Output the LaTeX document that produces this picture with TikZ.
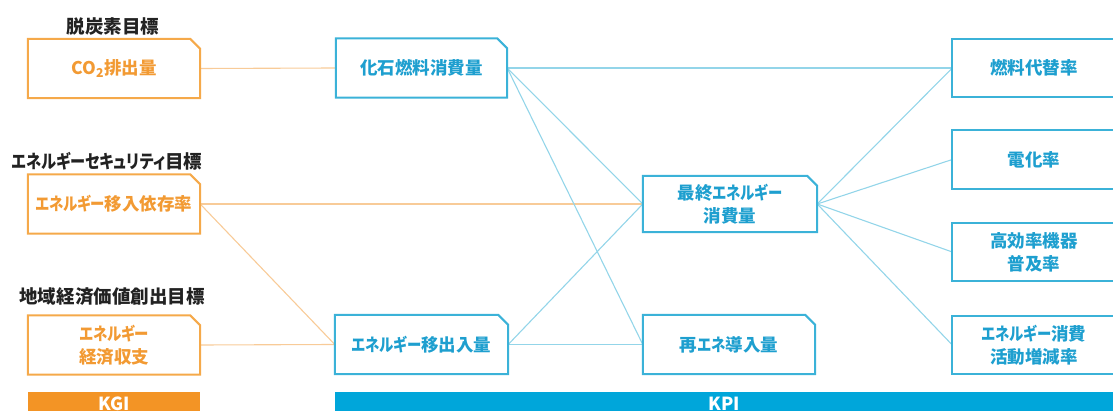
\documentclass[tikz,border=0pt]{standalone}
\usepackage{fontspec}
\setmainfont{Noto Sans CJK JP}[RawFeature=+palt]
\newcommand{\kn}[1]{\scalebox{0.82}[1]{#1}}
\definecolor{otext}{HTML}{F29A33}
\definecolor{oline}{HTML}{F5A94A}
\definecolor{olink}{HTML}{F8CB98}
\definecolor{obar}{HTML}{F39425}
\definecolor{btext}{HTML}{1E9FCF}
\definecolor{bline}{HTML}{3BB2D8}
\definecolor{blink}{HTML}{93D5E9}
\definecolor{bbar}{HTML}{00A6DA}
\definecolor{ttl}{HTML}{222222}
\tikzset{
  box/.style={minimum height=59pt, inner sep=0pt, align=center,
    font=\fontsize{17.5}{23}\selectfont\bfseries},
  obox/.style={box, text=otext, minimum width=172pt},
  bbox/.style={box, text=btext},
  title/.style={text=ttl, font=\fontsize{18.5}{22}\selectfont\bfseries, inner sep=0pt},
  olk/.style={draw=olink, line width=1.1pt},
  blk/.style={draw=blink, line width=1.1pt},
  bar/.style={inner sep=0pt, anchor=base, text=white,
    font=\fontsize{18}{18}\selectfont\bfseries},
}
\newcommand{\chamf}[2]{%
  \draw[#2, line width=2pt, line join=miter]
    (#1.south west) -- (#1.north west) -- ([xshift=-10pt]#1.north east)
    -- ([yshift=-10pt]#1.north east) -- (#1.south east) -- cycle;}
\begin{document}
\begin{tikzpicture}[x=1pt,y=-1pt]
\useasboundingbox (0,0) rectangle (1113,411);
\clip (0,0) rectangle (1113,411);
% titles
\node[title] (t1) at (113,27) {脱炭素目標};
\node[title] (t2) at (107,161) {\kn{エネルギーセキュリティ}目標};
\node[title] (t3) at (112,297) {地域経済価値創出目標};
% KGI boxes
\node[obox] (g1) at (114,68.5) {CO\textsubscript{2}排出量};
\node[obox] (g2) at (114,204) {\kn{エネルギー}移入依存率};
\node[obox] (g3) at (114,345) {\kn{エネルギー}\\経済収支};
% KPI boxes
\node[bbox, minimum width=171pt] (fossil) at (421.5,68) {化石燃料消費量};
\node[bbox, minimum width=173pt] (trade) at (421.5,344.5) {\kn{エネルギー}移出入量};
\node[bbox, minimum width=174pt, minimum height=56pt] (final) at (730,204) {最終\kn{エネルギー}\\消費量};
\node[bbox, minimum width=172pt] (renew) at (729,344.5) {再\kn{エネ}導入量};
\node[bbox, minimum width=175pt, minimum height=58pt] (r1) at (1040,68) {};
\node[bbox, minimum width=175pt, minimum height=58pt] (r2) at (1040,159.5) {};
\node[bbox, minimum width=175pt, minimum height=58pt] (r3) at (1040,252) {};
\node[bbox, minimum width=175pt, minimum height=58pt] (r4) at (1040,345) {};
\node[box, text=btext] (l1) at (1034,68) {燃料代替率};
\node[box, text=btext] (l2) at (1034,159.5) {電化率};
\node[box, text=btext] (l3) at (1034,252) {高効率機器\\普及率};
\node[box, text=btext] (l4) at (1034,345) {\kn{エネルギー}消費\\活動増減率};
% connectors
\draw[olk] (g1.east) -- (fossil.west);
\draw[olk] (g2.east) -- (final.west);
\draw[olk] (g2.east) -- (trade.west);
\draw[olk] (g3.east) -- (trade.west);
\draw[blk] (fossil.east) -- (r1.west);
\draw[blk] (fossil.east) -- (final.west);
\draw[blk] (fossil.east) -- (renew.west);
\draw[blk] (trade.east) -- (final.west);
\draw[blk] (trade.east) -- (renew.west);
\draw[blk] (final.east) -- (r1.west);
\draw[blk] (final.east) -- (r2.west);
\draw[blk] (final.east) -- (r3.west);
\draw[blk] (final.east) -- (r4.west);
% box outlines
\chamf{g1}{oline}
\chamf{g2}{oline}
\chamf{g3}{oline}
\chamf{fossil}{bline}
\chamf{trade}{bline}
\chamf{final}{bline}
\chamf{renew}{bline}
\foreach \n in {r1,r2,r3,r4}{\draw[bline, line width=2pt] (\n.south west) rectangle (\n.north east);}
% bars
\fill[obar] (28,392) rectangle (200,415);
\fill[bbar] (335,392) rectangle (1120,415);
\node[bar] (kgi) at (114,410) {KGI};
\node[bar] (kpi) at (724,410) {KPI};
\end{tikzpicture}
\end{document}
